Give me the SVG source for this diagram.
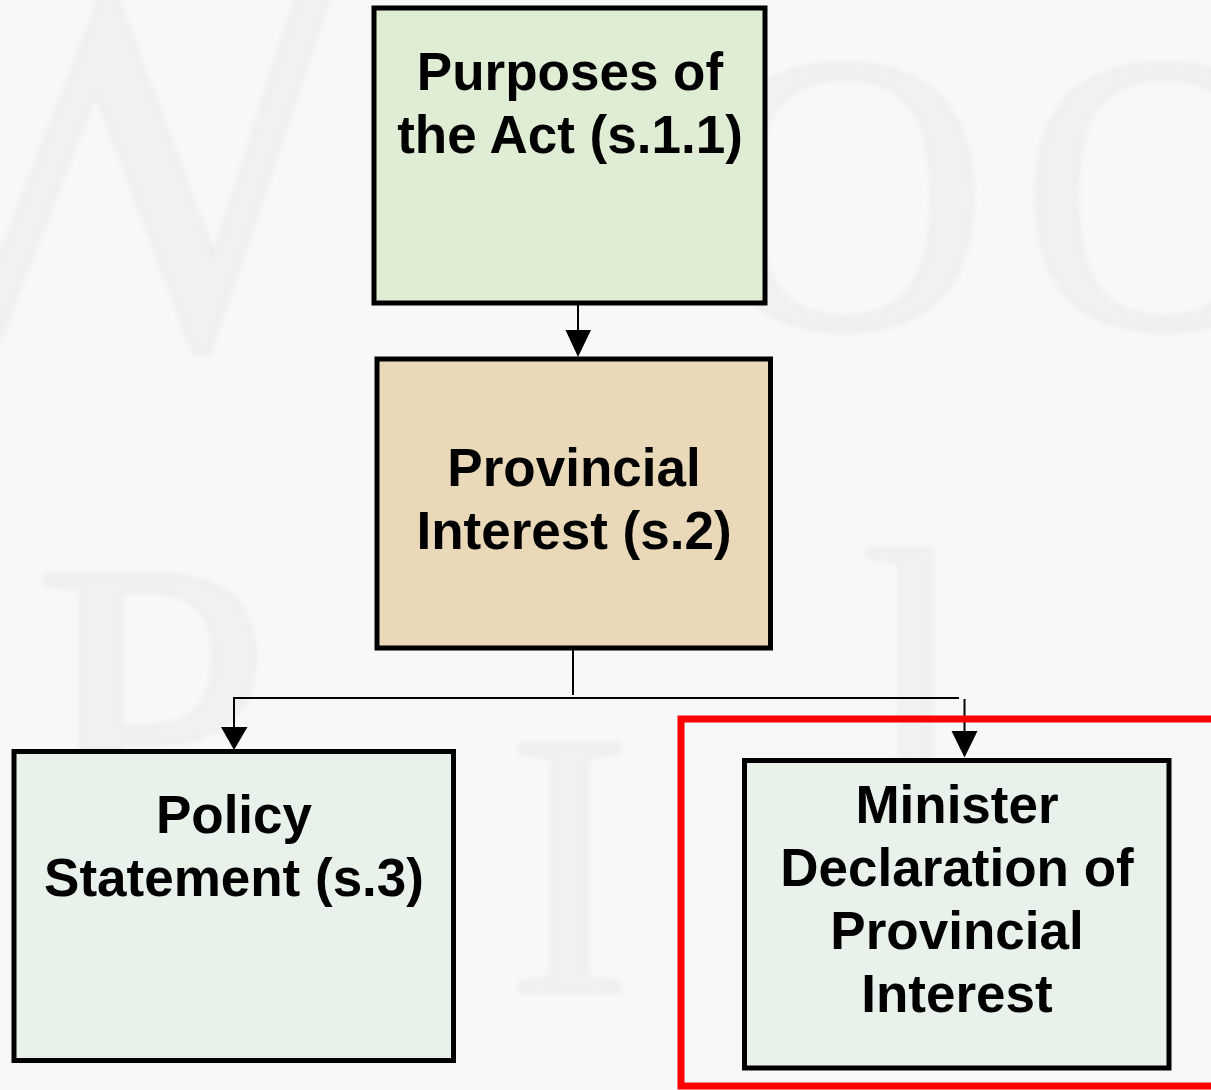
<svg xmlns="http://www.w3.org/2000/svg" width="1211" height="1090" viewBox="0 0 1211 1090">
  <style>
    .wm { font-family: "Liberation Serif", "Times New Roman", serif; fill: #f0f1f1; stroke: #ececec; stroke-width: 3; }
    .box { stroke: #000; stroke-width: 5; }
    .lbl { font-family: "Liberation Sans", Arial, sans-serif; font-weight: bold; font-size: 53px; fill: #000; text-anchor: middle; }
    .wire { stroke: #000; stroke-width: 2; fill: none; }
    .head { fill: #000; }
  </style>
  <defs>
    <filter id="soft" x="-10%" y="-10%" width="120%" height="120%">
      <feGaussianBlur stdDeviation="2.5"/>
    </filter>
  </defs>

  <!-- page background -->
  <rect x="0" y="0" width="1211" height="1090" fill="#f7f9f8"/>

  <!-- faint watermark lettering -->
  <g id="watermark" filter="url(#soft)">
    <text class="wm" x="-180" y="345" font-size="580">W</text>
    <text class="wm" x="700" y="328" font-size="400">O</text>
    <text class="wm" x="1020" y="328" font-size="400">O</text>
    <text class="wm" x="33" y="855" font-size="430">P</text>
    <text class="wm" x="506" y="992" font-size="380">I</text>
    <text class="wm" x="860" y="826" font-size="400">l</text>
  </g>

  <!-- connectors -->
  <g id="connectors">
    <line class="wire" x1="578" y1="305" x2="578" y2="331" stroke-width="3"/>
    <polygon class="head" points="565.5,330 591,330 578,357"/>

    <line class="wire" x1="573" y1="650" x2="573" y2="695"/>
    <line class="wire" x1="233" y1="698" x2="959" y2="698"/>

    <line class="wire" x1="234" y1="697" x2="234" y2="728"/>
    <polygon class="head" points="221,727 247.5,727 234,750"/>

    <line class="wire" x1="964.5" y1="699" x2="964.5" y2="732"/>
    <polygon class="head" points="951.5,731 977.5,731 964.5,757.5"/>
  </g>

  <!-- nodes -->
  <g id="node-purposes">
    <rect class="box" x="374" y="8" width="391" height="295" fill="#e0edd5"/>
    <text class="lbl" x="570" y="90">Purposes of</text>
    <text class="lbl" x="570" y="153">the Act (s.1.1)</text>
  </g>

  <g id="node-provincial-interest">
    <rect class="box" x="377" y="359" width="393.5" height="289" fill="#e9d9b9"/>
    <text class="lbl" x="574" y="486">Provincial</text>
    <text class="lbl" x="574" y="549">Interest (s.2)</text>
  </g>

  <g id="node-policy-statement">
    <rect class="box" x="14" y="751.5" width="439.5" height="309" fill="#e8f1ea"/>
    <text class="lbl" x="234" y="833">Policy</text>
    <text class="lbl" x="234" y="896">Statement (s.3)</text>
  </g>

  <g id="node-minister-declaration">
    <rect class="box" x="744.5" y="760.5" width="424.5" height="307.5" fill="#e8f1ea"/>
    <text class="lbl" x="957" y="823">Minister</text>
    <text class="lbl" x="957" y="886">Declaration of</text>
    <text class="lbl" x="957" y="949">Provincial</text>
    <text class="lbl" x="957" y="1012">Interest</text>
  </g>

  <!-- highlight frame -->
  <g id="highlight">
    <rect x="681" y="719" width="600" height="367" fill="none" stroke="#ff0000" stroke-width="7"/>
  </g>
</svg>
